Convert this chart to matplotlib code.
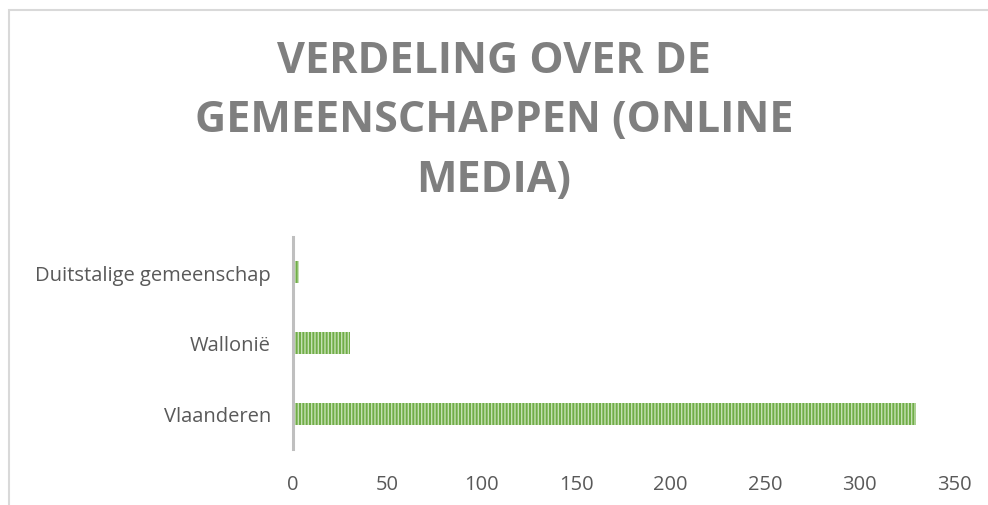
import numpy as np
import matplotlib
matplotlib.use('Agg')
import matplotlib.pyplot as plt
from matplotlib.patches import Rectangle

# data
gemeenschappen = ['Vlaanderen', 'Wallonië', 'Duitstalige gemeenschap']
aantallen = [330, 30, 3]
x_ticks = [0, 50, 100, 150, 200, 250, 300, 350]
titel = 'VERDELING OVER DE\nGEMEENSCHAPPEN (ONLINE\nMEDIA)'

C_BAR = '#70AD47'
C_STREEP = '#C5E0B4'
C_TEKST = '#595959'
C_TITEL = '#7F7F7F'

plt.rcParams['font.family'] = ['Open Sans', 'DejaVu Sans']
plt.rcParams['hatch.linewidth'] = 1.0

fig = plt.figure(figsize=(9.88, 5.06), dpi=100)
fig.patch.set_facecolor('white')

# kader rond de grafiek
fig.patches.append(Rectangle((9/988, -0.05), 1.2, 1 - 11/506 + 0.05,
                             transform=fig.transFigure, fill=False,
                             edgecolor='#D9D9D9', linewidth=1.5))

fig.text(0.5, 1 - 121/506, titel, ha='center', va='center', fontsize=31,
         fontweight='bold', color=C_TITEL, linespacing=1.5)

ax = fig.add_axes([293/988, 1 - 450/506, (954 - 293)/988, (450 - 238)/506])
y = np.arange(len(gemeenschappen))
ax.barh(y, aantallen, height=0.31, color=C_BAR, edgecolor=C_STREEP,
        linewidth=0, hatch='|||||')

ax.set_xlim(0, 350)
ax.set_ylim(-0.5, 2.5)
ax.set_xticks(x_ticks)
ax.set_xticklabels([str(t) for t in x_ticks])
ax.set_yticks(y)
ax.set_yticklabels(gemeenschappen)
ax.tick_params(axis='x', length=0, pad=18, labelsize=14.5, labelcolor=C_TEKST)
ax.tick_params(axis='y', length=0, pad=16, labelsize=14.5, labelcolor=C_TEKST)
for s in ['top', 'right', 'bottom']:
    ax.spines[s].set_visible(False)
ax.spines['left'].set_color('#BFBFBF')
ax.spines['left'].set_linewidth(2.2)

plt.savefig('out.png', dpi=100)
